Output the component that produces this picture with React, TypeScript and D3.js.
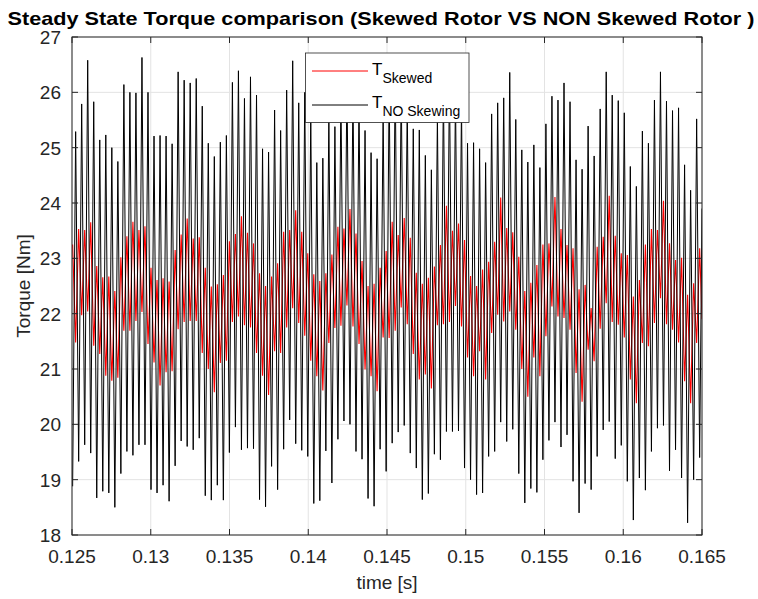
import React from 'react';
import * as d3 from 'd3';

// ---------- data ----------
const xTicks = [0.125, 0.13, 0.135, 0.14, 0.145, 0.15, 0.155, 0.16, 0.165];
const xTickLabels = ['0.125', '0.13', '0.135', '0.14', '0.145', '0.15', '0.155', '0.16', '0.165'];
const yTicks = [18, 19, 20, 21, 22, 23, 24, 25, 26, 27];
const yTickLabels = ['18', '19', '20', '21', '22', '23', '24', '25', '26', '27'];

// sampling of the extrema (time of first black trough / red peak, and the cycle length)
const cycleStart = 0.12504;
const cyclePeriod = 0.0003828;
const timeEnd = 0.165;

// T NO Skewing (black): minima and maxima of each cycle
const noSkewTroughs = [
  18.88, 19.33, 19.63, 19.48, 18.67, 18.79, 18.76, 18.5, 19.11, 19.51,
  19.44, 19.63, 19.63, 18.82, 18.76, 18.9, 18.61, 19.25, 19.7, 19.6,
  19.54, 19.75, 18.71, 18.63, 18.9, 18.63, 19.49, 19.95, 19.54, 19.57,
  19.56, 18.64, 18.51, 19.24, 18.82, 19.55, 20.08, 19.65, 19.53, 19.42,
  18.57, 18.62, 19.52, 18.94, 19.73, 20.06, 20.0, 19.51, 19.37, 18.66,
  18.52, 19.55, 19.15, 19.66, 19.86, 19.98, 19.48, 19.21, 18.64, 18.75,
  19.46, 19.36, 19.87, 19.87, 19.88, 19.21, 19.0, 18.73, 18.76, 19.42,
  19.51, 20.04, 19.69, 19.91, 19.11, 18.58, 18.84, 18.77, 19.36, 19.71,
  20.04, 19.59, 19.81, 18.97, 18.4, 18.93, 18.82, 19.42, 19.9, 20.05,
  19.38, 19.62, 18.97, 18.27, 19.03, 18.81, 19.51, 19.93, 19.98, 19.16,
  19.54, 19.03, 18.22, 19.0, 19.4,
];
const noSkewPeaks = [
  25.29, 25.79, 26.58, 25.83, 25.14, 25.23, 25.0, 24.75, 26.14, 26.0,
  25.99, 26.63, 26.0, 25.21, 25.22, 25.21, 25.07, 26.37, 26.22, 26.17,
  26.25, 25.75, 25.08, 24.84, 25.1, 25.22, 26.18, 26.39, 25.89, 26.28,
  25.95, 24.98, 24.92, 25.68, 25.31, 26.04, 26.57, 25.81, 26.0, 25.6,
  24.73, 24.81, 25.6, 25.38, 26.0, 26.3, 26.1, 25.9, 25.31, 24.91,
  24.8, 25.7, 26.2, 26.4, 26.2, 25.8, 25.34, 25.32, 24.86, 24.6,
  25.6, 26.1, 26.3, 26.0, 25.8, 25.08, 25.09, 24.98, 24.73, 25.61,
  25.81, 25.9, 26.36, 25.51, 24.96, 24.74, 25.05, 24.64, 25.43, 25.93,
  25.86, 26.17, 25.83, 24.78, 24.61, 25.39, 24.85, 25.7, 26.37, 25.95,
  25.85, 25.63, 24.66, 24.3, 25.3, 25.08, 25.86, 26.37, 25.84, 25.67,
  25.72, 24.69, 24.23, 25.52,
];
const noSkewLast = 23.9;

// T Skewed (red): maxima and minima of each cycle
const skewedPeaks = [
  23.25, 23.53, 23.51, 23.65, 22.86, 22.66, 22.67, 22.41, 23.02, 23.4,
  23.66, 23.51, 23.58, 22.83, 22.61, 22.64, 22.58, 23.15, 23.43, 23.72,
  23.36, 23.38, 22.83, 22.49, 22.53, 22.7, 23.31, 23.44, 23.76, 23.46,
  23.27, 22.73, 22.5, 22.67, 22.91, 23.48, 23.51, 23.87, 23.48, 23.09,
  22.71, 22.59, 22.73, 23.07, 23.57, 23.54, 23.89, 23.45, 22.95, 22.5,
  22.54, 22.83, 23.13, 23.66, 23.42, 23.73, 23.37, 22.74, 22.54, 22.65,
  22.85, 23.24, 23.95, 23.5, 23.63, 23.33, 22.68, 22.5, 22.8, 22.94,
  23.3, 24.1, 23.55, 23.47, 23.03, 22.41, 22.56, 22.88, 23.25, 23.27,
  24.11, 23.53, 23.24, 23.18, 22.44, 22.52, 22.1, 23.21, 23.39, 24.13,
  23.41, 23.09, 23.06, 22.31, 22.61, 23.25, 23.53, 23.51, 24.04, 23.27,
  22.97, 23.01, 22.34, 22.55, 23.18,
];
const skewedTroughs = [
  21.48, 21.97, 22.04, 21.42, 21.27, 20.88, 20.79, 20.84, 21.69, 21.69,
  21.87, 22.03, 21.45, 21.12, 20.7, 20.94, 20.96, 21.72, 21.85, 21.87,
  21.87, 21.29, 21.0, 20.58, 21.11, 21.15, 21.85, 21.95, 21.79, 21.75,
  21.29, 20.88, 20.53, 21.32, 21.29, 21.75, 22.1, 21.83, 21.6, 21.15,
  20.87, 20.61, 21.47, 21.74, 21.78, 22.15, 21.77, 21.45, 20.99, 20.87,
  20.6, 21.57, 21.56, 21.69, 22.11, 21.81, 21.27, 20.81, 20.9, 20.65,
  21.79, 21.81, 21.85, 22.14, 21.77, 21.21, 20.87, 21.32, 20.81, 21.65,
  21.98, 21.86, 22.04, 21.71, 21.0, 20.5, 21.21, 20.87, 21.59, 22.13,
  21.95, 21.92, 21.71, 20.93, 20.41, 21.35, 21.14, 21.73, 22.19, 21.85,
  21.8, 21.57, 20.81, 20.38, 21.47, 21.41, 21.83, 22.28, 21.81, 21.71,
  21.48, 20.78, 20.38, 21.47,
];
const skewedLast = 21.9;

// ---------- layout ----------
const W = 758;
const H = 599;
const plot = { left: 72, right: 702, top: 37, bottom: 535 };
const FONT = "'Liberation Sans', Arial, Helvetica, sans-serif";
const AXIS_COLOR = '#262626';
const GRID_COLOR = '#e3e3e3';

type Pt = { t: number; v: number };

function buildSeries(first: number[], second: number[], last: number): Pt[] {
  const pts: Pt[] = [];
  for (let i = 0; i < first.length; i++) {
    pts.push({ t: cycleStart + i * cyclePeriod, v: first[i] });
    if (i < second.length) pts.push({ t: cycleStart + (i + 0.5) * cyclePeriod, v: second[i] });
  }
  pts.push({ t: timeEnd, v: last });
  return pts;
}

export default function App() {
  const x = d3.scaleLinear().domain([0.125, 0.165]).range([plot.left, plot.right]);
  const y = d3.scaleLinear().domain([18, 27]).range([plot.bottom, plot.top]);
  const line = d3
    .line<Pt>()
    .x((d) => x(d.t))
    .y((d) => y(d.v));

  const black = buildSeries(noSkewTroughs, noSkewPeaks, noSkewLast);
  const red = buildSeries(skewedPeaks, skewedTroughs, skewedLast);
  const tickLen = 6;

  return (
    <svg
      width={W}
      height={H}
      style={{ position: 'absolute', left: 0, top: 0, background: '#fff' }}
      fontFamily={FONT}
    >
      <rect x={0} y={0} width={W} height={H} fill="#fff" />
      <defs>
        <clipPath id="plotClip">
          <rect x={plot.left} y={plot.top} width={plot.right - plot.left} height={plot.bottom - plot.top} />
        </clipPath>
      </defs>

      {/* grid */}
      {xTicks.map((t, i) => (
        <line key={'gx' + i} x1={x(t)} x2={x(t)} y1={plot.top} y2={plot.bottom} stroke={GRID_COLOR} strokeWidth={1} />
      ))}
      {yTicks.map((v, i) => (
        <line key={'gy' + i} x1={plot.left} x2={plot.right} y1={y(v)} y2={y(v)} stroke={GRID_COLOR} strokeWidth={1} />
      ))}

      {/* series */}
      <g clipPath="url(#plotClip)">
        <path d={line(red) || ''} fill="none" stroke="#ff0000" strokeWidth={1.1} />
        <path d={line(black) || ''} fill="none" stroke="#000000" strokeWidth={1} />
      </g>

      {/* box + ticks */}
      <rect
        x={plot.left}
        y={plot.top}
        width={plot.right - plot.left}
        height={plot.bottom - plot.top}
        fill="none"
        stroke={AXIS_COLOR}
        strokeWidth={1}
      />
      {xTicks.map((t, i) => (
        <g key={'tx' + i} stroke={AXIS_COLOR} strokeWidth={1}>
          <line x1={x(t)} x2={x(t)} y1={plot.bottom} y2={plot.bottom - tickLen} />
          <line x1={x(t)} x2={x(t)} y1={plot.top} y2={plot.top + tickLen} />
        </g>
      ))}
      {yTicks.map((v, i) => (
        <g key={'ty' + i} stroke={AXIS_COLOR} strokeWidth={1}>
          <line x1={plot.left} x2={plot.left + tickLen} y1={y(v)} y2={y(v)} />
          <line x1={plot.right} x2={plot.right - tickLen} y1={y(v)} y2={y(v)} />
        </g>
      ))}

      {/* tick labels */}
      {xTicks.map((t, i) => (
        <text key={'lx' + i} x={x(t)} y={563} textAnchor="middle" fontSize={19} fill={AXIS_COLOR}>
          {xTickLabels[i]}
        </text>
      ))}
      {yTicks.map((v, i) => (
        <text key={'ly' + i} x={61} y={y(v) + 7} textAnchor="end" fontSize={19} fill={AXIS_COLOR}>
          {yTickLabels[i]}
        </text>
      ))}

      {/* axis labels */}
      <text x={(plot.left + plot.right) / 2} y={589} textAnchor="middle" fontSize={19} fill={AXIS_COLOR}>
        time [s]
      </text>
      <text
        transform={`translate(30, ${(plot.top + plot.bottom) / 2}) rotate(-90)`}
        textAnchor="middle"
        fontSize={19}
        fill={AXIS_COLOR}
      >
        Torque [Nm]
      </text>

      {/* title */}
      <text
        x={381}
        y={25}
        textAnchor="middle"
        fontSize={19}
        fontWeight="bold"
        fill="#000"
        textLength={747}
        lengthAdjust="spacingAndGlyphs"
      >
        Steady State Torque comparison (Skewed Rotor VS NON Skewed Rotor )
      </text>

      {/* legend */}
      <g>
        <rect x={305.5} y={53} width={163.5} height={69.5} fill="#fff" stroke={AXIS_COLOR} strokeWidth={0.8} />
        <line x1={312} x2={368} y1={71} y2={71} stroke="#ff0000" strokeWidth={1} />
        <text x={372} y={75} fontSize={17} fill="#000">
          T
          <tspan fontSize={14} dy={8}>
            Skewed
          </tspan>
        </text>
        <line x1={312} x2={368} y1={105} y2={105} stroke="#000" strokeWidth={1} />
        <text x={372} y={108} fontSize={17} fill="#000">
          T
          <tspan fontSize={14} dy={8}>
            NO Skewing
          </tspan>
        </text>
      </g>
    </svg>
  );
}
